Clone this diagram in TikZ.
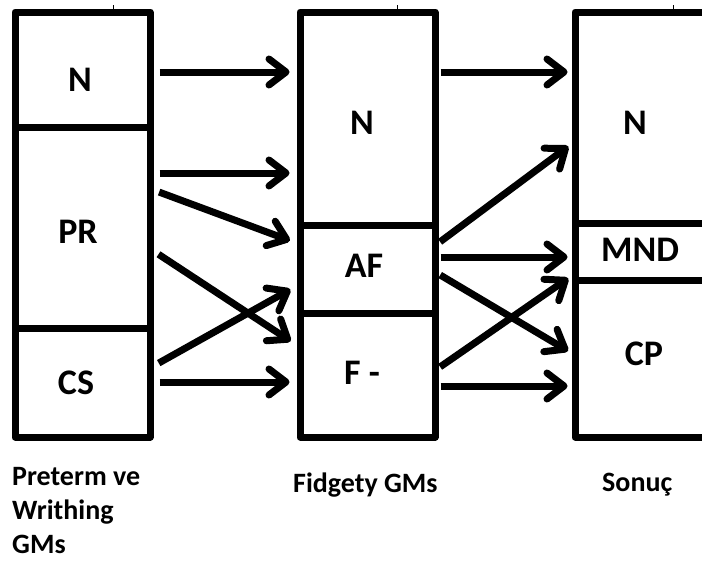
\documentclass[tikz,border=0pt]{standalone}
\usepackage{fontspec}
\setmainfont{Carlito}
\usetikzlibrary{arrows.meta,calc}

\tikzset{
  kutu/.style={draw, line width=7pt, line join=round, minimum width=135pt, inner sep=0pt},
  yazi/.style={font=\fontsize{36}{40}\selectfont\bfseries},
  alt/.style={font=\fontsize{28}{34}\selectfont\bfseries, align=left, inner sep=0pt},
  ok/.style={line width=7pt, -{Straight Barb[length=17pt,width=26pt,line cap=round,line join=round]}, shorten <=6pt, shorten >=7pt},
}

\begin{document}
\begin{tikzpicture}[x=1pt,y=-1pt]
\clip (0,0) rectangle (702,560);

% sol sutun
\node[kutu, minimum height=115pt] (n1) at (82.5,69.5) {};
\node[kutu, minimum height=201pt] (pr) at (82.5,227.5) {};
\node[kutu, minimum height=109pt] (cs) at (82.5,382.5) {};

% orta sutun
\node[kutu, minimum height=213pt] (n2) at (367.5,118.5) {};
\node[kutu, minimum height=88pt] (af) at (367.5,269) {};
\node[kutu, minimum height=124pt] (fm) at (367.5,375) {};

% sag sutun
\node[kutu, minimum width=131pt, minimum height=211pt] (n3) at (640.5,117.5) {};
\node[kutu, minimum width=131pt, minimum height=57pt] (mnd) at (640.5,251.5) {};
\node[kutu, minimum width=131pt, minimum height=157pt] (cp) at (640.5,358.5) {};

\draw[line width=1pt] (113,5) -- (113,12);
\draw[line width=1pt] (397,5) -- (397,12);
\draw[line width=1pt] (673,5) -- (673,12);

\node[yazi] (tn1) at (80,80) {N};
\node[yazi] (tpr) at (78,232) {PR};
\node[yazi] (tcs) at (76,383) {CS};

\node[yazi] (tn2) at (362,123) {N};
\node[yazi] (taf) at (364,266) {AF};
\node[yazi] (tfm) at (362,373) {F -};

\node[yazi] (tn3) at (635,123) {N};
\node[yazi] (tmnd) at (640,250) {MND};
\node[yazi] (tcp) at (644,354) {CP};

\node[alt, anchor=base west] (l1) at (12,553) {Preterm ve\\Writhing\\GMs};
\node[alt, anchor=base west] (l2) at (293,492) {Fidgety GMs};
\node[alt, anchor=base west] (l3) at (602,491) {Sonuç};

% oklar
\draw[ok] ($(n1.east)+(0,2.5)$) -- ($(n2.west)+(0,-46.5)$);
\draw[ok] ($(pr.east)+(0,-54.5)$) -- ($(n2.west)+(0,54.5)$);
\draw[ok] ($(pr.east)+(0,-37.5)$) -- ($(af.west)+(0,-26)$);
\draw[ok] ($(pr.east)+(0,23.5)$) -- ($(fm.west)+(0,-30)$);
\draw[ok] ($(cs.east)+(0,-16.5)$) -- ($(af.west)+(0,17)$);
\draw[ok] ($(cs.east)+(0,-0.5)$) -- ($(fm.west)+(0,7)$);

\draw[ok, shorten <=2pt, shorten >=4pt] ($(n2.east)+(0,-46.5)$) -- ($(n3.west)+(0,-45.5)$);
\draw[ok, shorten <=2pt, shorten >=4pt] ($(af.east)+(0,-26)$) -- ($(n3.west)+(0,26.5)$);
\draw[ok, shorten <=2pt, shorten >=4pt] ($(af.east)+(0,-12)$) -- ($(mnd.west)+(0,5.5)$);
\draw[ok, shorten <=2pt, shorten >=4pt] ($(af.east)+(0,5)$) -- ($(cp.west)+(0,-5.5)$);
\draw[ok, shorten <=2pt, shorten >=4pt] ($(fm.east)+(0,-7)$) -- ($(mnd.west)+(0,24.5)$);
\draw[ok, shorten <=2pt, shorten >=4pt] ($(fm.east)+(0,11)$) -- ($(cp.west)+(0,27.5)$);
\end{tikzpicture}
\end{document}
